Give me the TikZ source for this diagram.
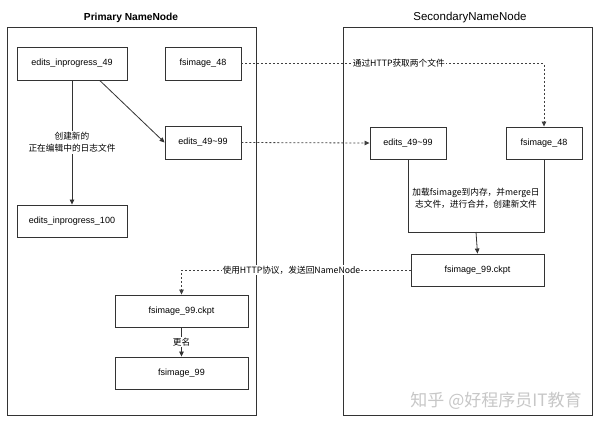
\documentclass[tikz,border=0pt]{standalone}
\usepackage{fontspec}
\setmainfont{Liberation Sans}
\newfontfamily\cjk{Noto Sans CJK SC}
\usetikzlibrary{arrows.meta,calc}
\begin{document}
\begin{tikzpicture}[x=1pt,y=-1pt,
  frame/.style={draw=black!80,line width=0.9pt},
  filebox/.style={draw=black!80,line width=0.9pt,fill=white,inner sep=0pt,font=\fontsize{9}{11}\selectfont},
  cnlabel/.style={fill=white,inner sep=1pt,font=\cjk\fontsize{8.7}{12}\selectfont,align=center},
  solidarrow/.style={draw=black!80,line width=0.8pt,-{Triangle[length=5pt,width=4.5pt]}},
  dasharrow/.style={draw=black!75,line width=0.8pt,dash pattern=on 2pt off 2pt,-{Triangle[length=5pt,width=4.5pt]}},
  title/.style={font=\fontsize{10}{12}\selectfont}
]
\useasboundingbox (0,0) rectangle (600,424);
\fill[white] (0,0) rectangle (600,424);
% containers
\draw[frame] (7,27) rectangle (256,415);
\draw[frame] (343,27) rectangle (592,415);
\node[font=\bfseries\fontsize{10.2}{12}\selectfont] (ptitle) at (131,18) {Primary NameNode};
\node[font=\fontsize{11.5}{13}\selectfont] (stitle) at (470,18) {SecondaryNameNode};
% primary nodes
\node[filebox,minimum width=110pt,minimum height=33pt] (ip49) at (72,63.5) {edits\_inprogress\_49};
\node[filebox,minimum width=76pt,minimum height=33pt] (fs48p) at (203,63.5) {fsimage\_48};
\node[filebox,minimum width=76pt,minimum height=33pt] (ed99p) at (203,142.5) {edits\_49\textasciitilde99};
\node[filebox,minimum width=110pt,minimum height=32pt] (ip100) at (72,221) {edits\_inprogress\_100};
\node[filebox,minimum width=133pt,minimum height=32pt] (ckptp) at (181.5,311) {fsimage\_99.ckpt};
\node[filebox,minimum width=133pt,minimum height=32pt] (fs99) at (181.5,373) {fsimage\_99};
% secondary nodes
\node[filebox,minimum width=76pt,minimum height=32pt] (ed99s) at (408,143) {edits\_49\textasciitilde99};
\node[filebox,minimum width=76pt,minimum height=32pt] (fs48s) at (544,143) {fsimage\_48};
% merge box: open at the top, between the two files
\coordinate (mergebl) at (ed99s.south |- 0,232);
\coordinate (mergebr) at (fs48s.south |- 0,232);
\draw[frame] (ed99s.south) -- (mergebl) -- (mergebr) -- (fs48s.south);
\coordinate (merge) at ($(mergebl)!0.5!(mergebr)$);
\node[cnlabel,fill=none] (mergetxt) at (476,198.5) {加载fsimage到内存，并merge日\\志文件，进行合并，创建新文件};
\node[filebox,minimum width=133pt,minimum height=32pt] (ckpts) at (477.5,270) {fsimage\_99.ckpt};
% connectors
\draw[solidarrow] (ip49.south) -- node[cnlabel] (lbl1) {创建新的\\正在编辑中的日志文件} (ip100.north);
\draw[solidarrow] ($(ip49.south)!0.5!(ip49.south east)$) -- (ed99p.west);
\draw[dasharrow] (fs48p.east) -| node[cnlabel,pos=0.26] (lbl2) {通过HTTP获取两个文件} (fs48s.north);
\draw[dasharrow] (ed99p.east) -- (ed99s.west);
\draw[solidarrow] (merge) -- (ckpts.north);
\draw[dasharrow] (ckpts.west) -| node[cnlabel,pos=0.26] (lbl3) {使用HTTP协议，发送回NameNode} (ckptp.north);
\draw[solidarrow] (ckptp.south) -- node[cnlabel,inner sep=0.5pt] (lbl4) {更名} (fs99.north);
% watermark
\node[font=\cjk\fontsize{17}{19}\selectfont,text=black!22] (wm) at (496,401) {知乎 @好程序员IT教育};
\end{tikzpicture}
\end{document}
